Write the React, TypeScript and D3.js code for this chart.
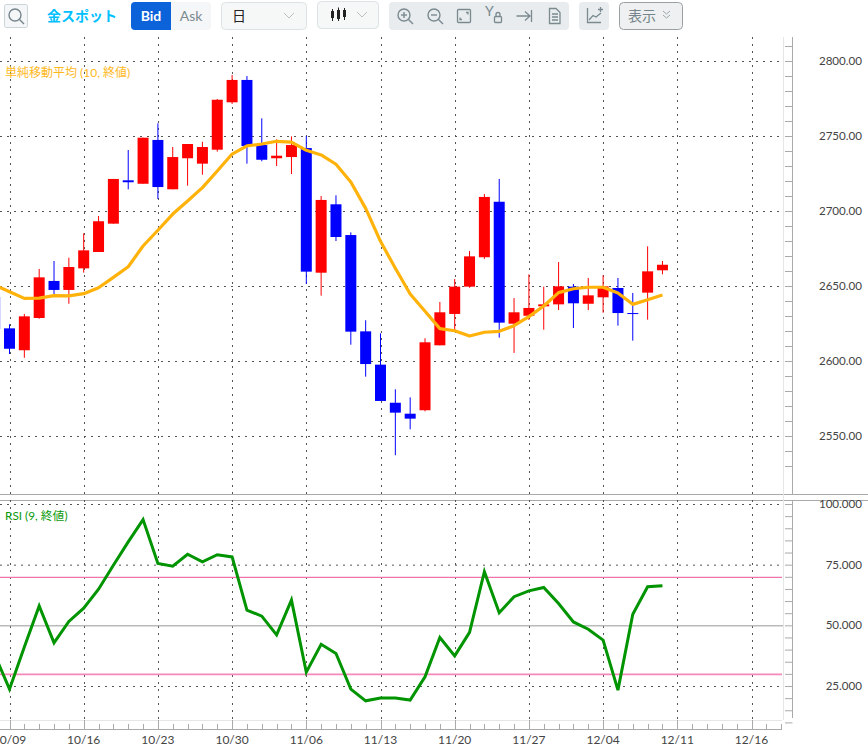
import * as d3 from "d3";

// first slot is the candle cut off by the left edge, then 10/09 onwards
const startIndex = -1;
const opens = [2643, 2622.1, 2607.5, 2629, 2653.7, 2647.7, 2662.1, 2673, 2691.9, 2720.8, 2718.5, 2747.7, 2714.8, 2735.5, 2731.9, 2741.2, 2772.8, 2787.7, 2744.3, 2735.5, 2736.3, 2742.3, 2659.2, 2704.8, 2684.3, 2620.1, 2597.9, 2572.5, 2565.2, 2567.5, 2610.8, 2631.7, 2649.9, 2669.5, 2706.5, 2625.2, 2630.5, 2636.8, 2638.1, 2649.9, 2638.5, 2642.8, 2649, 2632.3, 2645.9, 2660.8];
const closes = [2621.7, 2608.5, 2630.1, 2656.1, 2647.7, 2663, 2674.1, 2693.5, 2721.7, 2719.5, 2749.2, 2716.3, 2736.3, 2745, 2743, 2774.5, 2787.7, 2743.7, 2734.5, 2737.2, 2744.3, 2659.9, 2707.7, 2683, 2619.9, 2598.3, 2573.7, 2565.9, 2561.9, 2612.8, 2632.8, 2649.9, 2670.1, 2709.7, 2625.9, 2632.8, 2635.7, 2638.1, 2650.1, 2638.8, 2644.1, 2650.1, 2632.3, 2631.7, 2660.1, 2664.5];
const highs = [2645, 2624.8, 2631.7, 2661.7, 2667, 2669.2, 2685.5, 2697, 2721.7, 2741, 2749.2, 2758.8, 2743, 2745, 2746.5, 2775, 2791, 2790.3, 2762.1, 2748.1, 2750.1, 2750.3, 2710.3, 2710.8, 2686.1, 2627.5, 2618.8, 2581.5, 2576.1, 2615.5, 2639.7, 2655, 2673.7, 2711.7, 2721.7, 2642.3, 2658.1, 2649.9, 2666.3, 2651.7, 2655.7, 2657.5, 2655.7, 2645.7, 2676.8, 2667];
const lows = [2618, 2605, 2602.5, 2628.5, 2645, 2638.5, 2659.2, 2673, 2691.9, 2714.8, 2718.5, 2708.3, 2714.8, 2717.2, 2724.5, 2739.9, 2771.7, 2731.9, 2733.5, 2730.3, 2725, 2651.7, 2643.9, 2680.3, 2611.2, 2589.9, 2573.7, 2537.5, 2554.8, 2566.8, 2610.8, 2621, 2649.2, 2668.3, 2615.9, 2605.7, 2627.7, 2621.2, 2634.3, 2622.3, 2634.3, 2632.5, 2623.9, 2613.9, 2627.9, 2658.1];
const smaValues = [2651, 2646.5, 2642.1, 2642.3, 2643.9, 2643.7, 2645.2, 2649.2, 2656.1, 2663.2, 2677, 2687.5, 2698.3, 2707, 2715.9, 2727, 2738.3, 2743.7, 2745, 2746.8, 2746.3, 2740.8, 2737.7, 2731.5, 2719.7, 2702.1, 2680.1, 2662.1, 2645, 2633.5, 2621.9, 2620.5, 2617, 2619.5, 2620.1, 2623.9, 2629.9, 2637, 2645.9, 2648.5, 2649.5, 2649.5, 2645.7, 2638.1, 2641.2, 2644.3];
const rsiValues = [38.2, 23.9, 41.3, 58.2, 43, 51.8, 57.3, 65.1, 75, 84.6, 93.8, 75.7, 74.6, 79.5, 76.4, 79.3, 78.4, 56.5, 54, 46.3, 60.6, 30.9, 42.4, 38.6, 23.9, 19.1, 20.3, 20.3, 19.4, 29, 45.2, 37.6, 47.3, 72.3, 55.4, 62, 64.4, 65.8, 59.2, 51.6, 48.6, 44.1, 23.5, 54.8, 66.1, 66.5];

const dateLabels = ["10/09", "10/16", "10/23", "10/30", "11/06", "11/13", "11/20", "11/27", "12/04", "12/11", "12/16"];
const dateIndexes = [0, 5, 10, 15, 20, 25, 30, 35, 40, 45, 50];
const priceTicks = [2800, 2750, 2700, 2650, 2600, 2550];
const rsiTicks = [100, 75, 50, 25];

const FONT = "Lato, 'Noto Sans CJK JP', sans-serif";
const RED = "#ff0000";
const BLUE = "#0000ff";
const GRID = "#555";
const DASH = "2,5";
const AXIS = "#aaa";
const ICON = "#7a8a90";

const x = d3.scaleLinear().domain([0, 50]).range([9.5, 751.5]);
const yPrice = d3.scaleLinear().domain([2800, 2550]).range([61.5, 436.5]);
const yRsi = d3.scaleLinear().domain([100, 25]).range([504.5, 686.5]);

const PLOT_RIGHT = 783;
const AXIS_X = 792.5;
const TOP_PANEL = [37, 494] as const;
const BOTTOM_PANEL = [500, 720] as const;
const X_AXIS_Y = 729.5;

const slots = opens.map((_, i) => i + startIndex);

const smaLine = d3
  .line<number>()
  .x((_, i) => x(i + startIndex))
  .y((d) => yPrice(d));

const rsiLine = d3
  .line<number>()
  .x((_, i) => x(i + startIndex))
  .y((d) => yRsi(d));

function Chevron({ cx, cy, color = "#b8c0c4" }: { cx: number; cy: number; color?: string }) {
  return <path d={`M${cx - 5},${cy - 3}L${cx},${cy + 2}L${cx + 5},${cy - 3}`} fill="none" stroke={color} strokeWidth={1} />;
}

function Magnifier({ cx, cy, mark }: { cx: number; cy: number; mark?: "plus" | "minus" }) {
  return (
    <g fill="none" stroke={ICON} strokeWidth={1.4}>
      <circle cx={cx - 1} cy={cy - 1} r={6} />
      <path d={`M${cx + 3.5},${cy + 3.5}L${cx + 8},${cy + 8}`} />
      {mark && <path d={`M${cx - 4},${cy - 1}H${cx + 2}`} />}
      {mark === "plus" && <path d={`M${cx - 1},${cy - 4}V${cy + 2}`} />}
    </g>
  );
}

function Toolbar() {
  return (
    <g fontFamily={FONT}>
      <rect x={4.5} y={4.5} width={23} height={23} rx={2} fill="#f4f6f7" stroke="#ccd5d8" />
      <g fill="none" stroke="#75868d" strokeWidth={1.4}>
        <circle cx={15} cy={15} r={6} />
        <path d="M19.5,19.5L24,24" />
      </g>
      <text x={47} y={21} fontSize={14} fontWeight={700} fill="#00c0ff">金スポット</text>

      <path d="M135,2H171V30H135a4,4 0 0 1 -4,-4V6a4,4 0 0 1 4,-4Z" fill="#0b62d9" />
      <path d="M171,2H207a4,4 0 0 1 4,4V26a4,4 0 0 1 -4,4H171Z" fill="#f5f6f7" />
      <text x={151} y={21} fontSize={14} fontWeight={700} fill="#fff" textAnchor="middle">Bid</text>
      <text x={191} y={21} fontSize={14} fill="#7b8a91" textAnchor="middle">Ask</text>

      <rect x={221.5} y={2.5} width={85} height={27} rx={4} fill="#f6f8f8" stroke="#dbe3e5" />
      <text x={239} y={21} fontSize={14} fill="#222" textAnchor="middle">日</text>
      <Chevron cx={289} cy={16} />

      <rect x={317.5} y={1.5} width={61} height={27} rx={4} fill="#f6f8f8" stroke="#dbe3e5" />
      <g stroke="#222" fill="#222">
        <path d="M332.5,9V21M338.5,7.5V21M344.5,8V20" strokeWidth={1} />
        <rect x={331} y={11} width={3} height={7} stroke="none" />
        <rect x={337} y={10} width={3} height={9} stroke="none" />
        <rect x={343} y={10} width={3} height={7} stroke="none" />
      </g>
      <Chevron cx={362} cy={15} />

      <rect x={389} y={2} width={180} height={28} rx={4} fill="#e8ecee" />
      <Magnifier cx={405} cy={16} mark="plus" />
      <Magnifier cx={435} cy={16} mark="minus" />
      <g fill="none" stroke={ICON} strokeWidth={1.3}>
        <rect x={457.5} y={9.5} width={13} height={13} rx={1} />
        <path d="M466,12.5H468V14.5M460,17.5V19.5H462" />
        <path d="M516.5,16H530M525,11.5L530,16L525,20.5M531.5,10V22" />
        <path d="M549.5,8.5H556L560,12.5V23.5H549.5ZM552,14H558M552,17H558M552,20H558" />
      </g>
      <text x={485} y={16} fontSize={14} fill={ICON}>Y</text>
      <g fill="none" stroke={ICON} strokeWidth={1.3}>
        <rect x={494.5} y={16.5} width={7} height={6} rx={1} />
        <path d="M496,16.5V14.5a2,2 0 0 1 4,0V16.5" />
      </g>

      <rect x={579} y={2} width={30} height={28} rx={4} fill="#e8ecee" />
      <g fill="none" stroke={ICON} strokeWidth={1.3}>
        <path d="M587.5,8V22.5H601" />
        <path d="M589,20L593,15.5L596,17L601,13" />
        <path d="M598,9.5H603M600.5,7V12" />
      </g>

      <rect x={619.5} y={2.5} width={63} height={27} rx={4} fill="#eef0f1" stroke="#9aa0a2" />
      <text x={628} y={21} fontSize={14} fill="#75858b">表示</text>
      <path d="M663,11L666.5,14L670,11M663,15L666.5,18L670,15" fill="none" stroke="#9aa5aa" strokeWidth={1} />
    </g>
  );
}

function Candles() {
  return (
    <g>
      {slots.map((slot, i) => {
        const color = closes[i] >= opens[i] ? RED : BLUE;
        const top = yPrice(Math.max(opens[i], closes[i]));
        const bottom = yPrice(Math.min(opens[i], closes[i]));
        return (
          <g key={slot}>
            <line x1={x(slot)} x2={x(slot)} y1={yPrice(highs[i])} y2={yPrice(lows[i])} stroke={color} strokeWidth={1} />
            <rect x={x(slot) - 5.5} y={top} width={11} height={Math.max(bottom - top, 1)} fill={color} />
          </g>
        );
      })}
    </g>
  );
}

function App() {
  const priceMinor = d3.range(2530, 2811, 10);
  const rsiMinor = d3.range(10, 101, 5);
  const xMinor = d3.range(-1, 53);

  return (
    <svg width={868} height={750} style={{ position: "absolute", left: 0, top: 0, display: "block", background: "#fff" }}>
      <Toolbar />

      {/* grid, top panel */}
      <g stroke={GRID} strokeWidth={1} strokeDasharray={DASH}>
        {priceTicks.map((t) => (
          <line key={t} x1={0} x2={PLOT_RIGHT} y1={yPrice(t)} y2={yPrice(t)} />
        ))}
        {dateIndexes.map((d) => (
          <line key={d} x1={Math.round(x(d)) + 0.5} x2={Math.round(x(d)) + 0.5} y1={TOP_PANEL[0]} y2={TOP_PANEL[1]} />
        ))}
      </g>

      <Candles />
      <path d={smaLine(smaValues) ?? ""} fill="none" stroke="#ffb20a" strokeWidth={3.2} strokeLinejoin="round" />
      <text x={5} y={77} fontSize={12} fontFamily={FONT} fill="#ffb81c">単純移動平均 (10, 終値)</text>

      {/* panel separators */}
      <line x1={0} x2={868} y1={494.5} y2={494.5} stroke={AXIS} />
      <line x1={0} x2={868} y1={500.5} y2={500.5} stroke={AXIS} />

      {/* grid, RSI panel */}
      <g stroke={GRID} strokeWidth={1} strokeDasharray={DASH}>
        {rsiTicks.filter((t) => t !== 50).map((t) => (
          <line key={t} x1={0} x2={PLOT_RIGHT} y1={yRsi(t)} y2={yRsi(t)} />
        ))}
        {dateIndexes.map((d) => (
          <line key={d} x1={Math.round(x(d)) + 0.5} x2={Math.round(x(d)) + 0.5} y1={BOTTOM_PANEL[0]} y2={BOTTOM_PANEL[1]} />
        ))}
      </g>
      <line x1={0} x2={PLOT_RIGHT} y1={yRsi(50)} y2={yRsi(50)} stroke="#999" />
      <line x1={0} x2={782} y1={yRsi(70)} y2={yRsi(70)} stroke="#ee74ac" strokeWidth={1.2} />
      <line x1={0} x2={782} y1={yRsi(30)} y2={yRsi(30)} stroke="#f588ba" strokeWidth={1.6} />
      <path d={rsiLine(rsiValues) ?? ""} fill="none" stroke="#009400" strokeWidth={3} strokeLinejoin="miter" />
      <text x={5} y={520} fontSize={11.8} fontFamily={FONT} fill="#0a9a0a">RSI (9, 終値)</text>

      {/* right axes */}
      <line x1={PLOT_RIGHT + 0.5} x2={PLOT_RIGHT + 0.5} y1={TOP_PANEL[0]} y2={BOTTOM_PANEL[1]} stroke="#e6e6e6" />
      <line x1={AXIS_X} x2={AXIS_X} y1={TOP_PANEL[0]} y2={TOP_PANEL[1]} stroke={AXIS} />
      <line x1={AXIS_X} x2={AXIS_X} y1={BOTTOM_PANEL[0]} y2={718} stroke={AXIS} />
      <g stroke={AXIS}>
        {priceMinor.map((t) => (
          <line key={t} x1={785} x2={AXIS_X} y1={yPrice(t)} y2={yPrice(t)} />
        ))}
        {rsiMinor.map((t) => (
          <line key={t} x1={785} x2={AXIS_X} y1={yRsi(t)} y2={yRsi(t)} />
        ))}
      </g>
      <g fontFamily={FONT} fontSize={11.6} fill="#444" textAnchor="end">
        {priceTicks.map((t) => (
          <text key={t} x={862} y={yPrice(t) + 3.5}>{t.toFixed(2)}</text>
        ))}
        {rsiTicks.map((t) => (
          <text key={t} x={862} y={yRsi(t) + 3.5}>{t.toFixed(3)}</text>
        ))}
      </g>

      {/* x axis */}
      <line x1={0} x2={782} y1={720.5} y2={720.5} stroke="#e6e6e6" />
      <line x1={0} x2={782} y1={X_AXIS_Y} y2={X_AXIS_Y} stroke={AXIS} />
      <g stroke={AXIS}>
        {xMinor.map((d) => (
          <line key={d} x1={Math.round(x(d)) + 0.5} x2={Math.round(x(d)) + 0.5} y1={724} y2={X_AXIS_Y} />
        ))}
        {dateIndexes.map((d) => (
          <line key={d} x1={Math.round(x(d)) + 0.5} x2={Math.round(x(d)) + 0.5} y1={720} y2={X_AXIS_Y} />
        ))}
      </g>
      <g fontFamily={FONT} fontSize={12} fill="#444" textAnchor="middle">
        {dateIndexes.map((d, i) => (
          <text key={d} x={x(d)} y={744}>{dateLabels[i]}</text>
        ))}
      </g>
    </svg>
  );
}

export default App;
